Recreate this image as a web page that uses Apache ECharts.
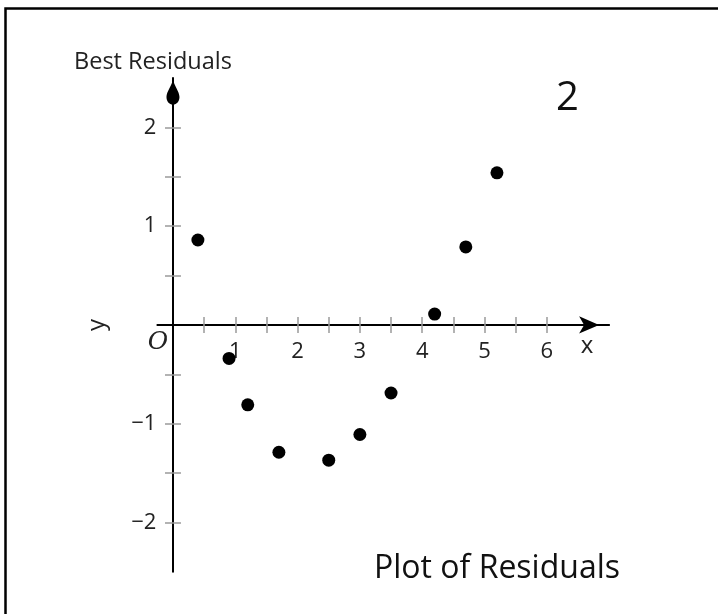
<!DOCTYPE html>
<html>
<head>
<meta charset="utf-8">
<script src="https://cdn.jsdelivr.net/npm/echarts@6/dist/echarts.min.js"></script>
<style>
  html, body { margin: 0; padding: 0; background: #fff; }
  #chart { width: 718px; height: 614px; }
</style>
</head>
<body>
<div id="chart"></div>
<script>
// Residuals of the best-fit line, one point per observation
const xValues = [0.4, 0.9, 1.2, 1.7, 2.5, 3.0, 3.5, 4.2, 4.7, 5.2];
const residuals = [0.86, -0.34, -0.81, -1.29, -1.37, -1.11, -0.69, 0.11, 0.79, 1.54];

// Axis ticks and labelled values
const xTicks = [0.5, 1, 1.5, 2, 2.5, 3, 3.5, 4, 4.5, 5, 5.5, 6];
const xTickLabels = [1, 2, 3, 4, 5, 6];
const yTicks = [-2, -1.5, -1, -0.5, 0.5, 1, 1.5, 2];
const yTickLabels = [-2, -1, 1, 2];

const points = xValues.map((x, i) => [x, residuals[i]]);

const FONT = '"Open Sans", "Noto Sans", sans-serif';
const minus = v => (v < 0 ? '\u2212' + Math.abs(v) : String(v));

const X_MIN = -0.25, X_MAX = 7, Y_MIN = -2.5, Y_MAX = 2.5;

const tickStyle = { color: '#9a9a9a', width: 1.5 };
const teardrop = 'path://M6,0 C7,5 12,11 12,16 C12,20 9.5,23 6,23 C2.5,23 0,20 0,16 C0,11 5,5 6,0 Z';

const chart = echarts.init(document.getElementById('chart'));
chart.setOption({
  backgroundColor: '#fff',
  animation: false,
  title: [
    { text: 'Best Residuals', left: 74, top: 50, padding: 0,
      textStyle: { fontFamily: FONT, fontSize: 23.5, fontWeight: 'normal', color: '#222' } },
    { text: '2', left: 556, top: 79, padding: 0,
      textStyle: { fontFamily: FONT, fontSize: 40, fontWeight: 'normal', color: '#111' } },
    { text: 'Plot of Residuals', left: 374, top: 553, padding: 0,
      textStyle: { fontFamily: FONT, fontSize: 32, fontWeight: 'normal', color: '#111' } }
  ],
  grid: { left: 157.4, right: 108.9, top: 78.1, bottom: 42.3, containLabel: false },
  xAxis: [
    {
      type: 'value', position: 'bottom', min: X_MIN, max: X_MAX,
      name: 'x', nameLocation: 'end', nameGap: -22,
      nameTextStyle: { fontFamily: FONT, fontSize: 24, color: '#222', align: 'center', verticalAlign: 'top', padding: [9, 0, 0, 0] },
      axisLine: { onZero: true, onZeroAxisIndex: 0, symbol: ['none', 'arrow'], symbolSize: [13, 20], symbolOffset: [0, -10],
        lineStyle: { color: '#000', width: 2 } },
      axisTick: { show: true, inside: false, length: 8, customValues: xTicks, lineStyle: tickStyle },
      // labels are laid out from the grid's bottom edge; pull them up to sit under the zero line
      axisLabel: { customValues: xTickLabels, formatter: minus, margin: -231,
        fontFamily: FONT, fontSize: 22, color: '#222' },
      splitLine: { show: false }
    },
    {
      type: 'value', position: 'top', min: X_MIN, max: X_MAX,
      axisLine: { onZero: true, onZeroAxisIndex: 1, lineStyle: { color: '#000', width: 2, opacity: 0 } },
      axisTick: { show: true, inside: false, length: 8, customValues: xTicks, lineStyle: tickStyle },
      axisLabel: { show: false },
      splitLine: { show: false }
    }
  ],
  yAxis: [
    {
      type: 'value', position: 'left', min: Y_MIN, max: Y_MAX,
      name: 'y', nameLocation: 'middle', nameRotate: 90, nameGap: 48,
      nameTextStyle: { fontFamily: FONT, fontSize: 24, color: '#222' },
      axisLine: { onZero: true, onZeroAxisIndex: 0, symbol: ['none', teardrop], symbolSize: [13, 28], symbolOffset: [0, -14],
        lineStyle: { color: '#000', width: 2 } },
      axisTick: { show: true, inside: false, length: 8, customValues: yTicks, lineStyle: tickStyle },
      axisLabel: { customValues: yTickLabels, formatter: minus, margin: 1,
        fontFamily: FONT, fontSize: 22, color: '#222' },
      splitLine: { show: false }
    },
    {
      type: 'value', position: 'right', min: Y_MIN, max: Y_MAX,
      axisLine: { onZero: true, onZeroAxisIndex: 1, lineStyle: { color: '#000', width: 2, opacity: 0 } },
      axisTick: { show: true, inside: false, length: 8, customValues: yTicks, lineStyle: tickStyle },
      axisLabel: { show: false },
      splitLine: { show: false }
    }
  ],
  graphic: [
    // frame along the top and left edges
    { type: 'rect', left: 3, top: 6, silent: true,
      shape: { x: 0, y: 0, width: 760, height: 660 },
      style: { fill: 'none', stroke: '#000', lineWidth: 2.5 } },
    // origin marker
    { type: 'text', x: 158, y: 342, silent: true,
      style: { text: 'O', fontFamily: '"DejaVu Serif", serif', fontStyle: 'italic', fontSize: 25,
        fill: '#222', align: 'center', verticalAlign: 'middle' } }
  ],
  series: [
    {
      type: 'scatter', xAxisIndex: 0, yAxisIndex: 0,
      data: points, symbol: 'circle', symbolSize: 13,
      itemStyle: { color: '#000', opacity: 1 }
    }
  ]
});
</script>
</body>
</html>
